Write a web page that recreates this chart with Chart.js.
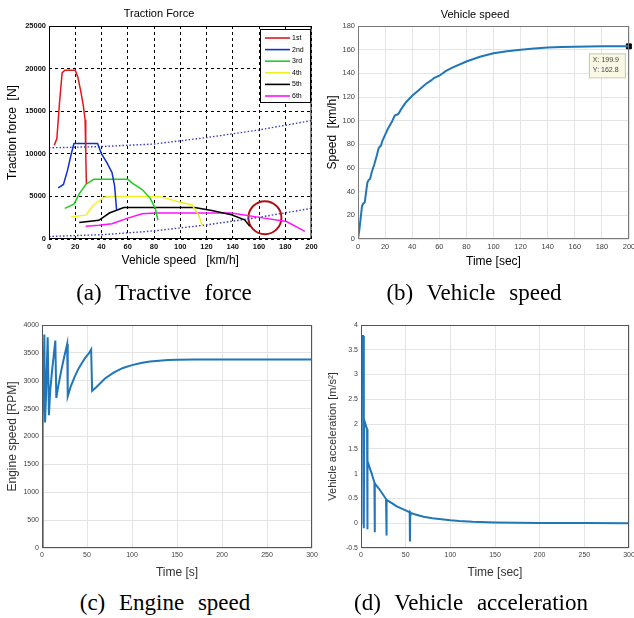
<!DOCTYPE html>
<html>
<head>
<meta charset="utf-8">
<script src="https://cdn.jsdelivr.net/npm/chart.js@4.4.0/dist/chart.umd.min.js"></script>
<style>
  body { margin: 0; background: #fff; width: 634px; height: 618px; position: relative; overflow: hidden; }
  canvas { position: absolute; }
  .cap { position: absolute; font-family: "Liberation Serif", serif; font-size: 23px; word-spacing: 8px; color: #000; white-space: pre; transform: translate(-50%, -50%); }
</style>
</head>
<body>
<canvas id="cA" width="330" height="280" style="left:0;top:0"></canvas>
<canvas id="cB" width="314" height="280" style="left:320px;top:0"></canvas>
<canvas id="cC" width="320" height="285" style="left:0;top:300px"></canvas>
<canvas id="cD" width="314" height="285" style="left:320px;top:300px"></canvas>
<div class="cap" style="left:164px;top:293px">(a) Tractive force</div>
<div class="cap" style="left:474px;top:293px">(b) Vehicle speed</div>
<div class="cap" style="left:165px;top:603px">(c) Engine speed</div>
<div class="cap" style="left:471px;top:603px">(d) Vehicle acceleration</div>
<script>
// (a) traction force per gear: [speed km/h, force N]
const gear1 = [[4,11000],[6,11800],[8,16000],[10,19500],[12,19800],[20,19800],[22,19000],[24,17500],[26,15800],[27.5,14000],[28,10000],[28.5,6500]];
const gear2 = [[7,6000],[11,6400],[14,8000],[17,10000],[19,11200],[37,11200],[40,10000],[44,9000],[48,7800],[50,6200],[51.5,3400]];
const gear3 = [[12,3600],[19,4100],[23,5300],[28,6400],[34,7000],[60,7000],[64,6500],[71,5800],[77,4800],[81,3600],[83,2200]];
const gear4 = [[17,2600],[28,2800],[34,4000],[42,4900],[48,5000],[84,5000],[98,4400],[109,4000],[114,2800],[117,1500]];
const gear5 = [[23,1950],[38,2200],[46,3050],[57,3700],[111,3700],[124,3350],[139,2850],[149,2250],[153,1500]];
const gear6 = [[28,1500],[38,1600],[48,1800],[60,2450],[71,2950],[81,3050],[139,3050],[164,2450],[181,2050],[190,1300],[195,900]];
const resistUpper = [[0,10700],[40,10850],[80,11150],[120,11900],[160,12800],[200,13900]];
const resistLower = [[0,300],[40,500],[80,950],[120,1650],[160,2550],[200,3600]];
const circleMark = [[164.5,2500]];
const gearLabels = ['1st','2nd','3rd','4th','5th','6th'];
const gearColors = ['#e01818','#1030d0','#22cc22','#f0f020','#000000','#ff10ff'];

// (b) vehicle speed
const speedTime = [0,1,2,3,4,5,6,7,8,9,10,12,14,15,16,17,18,20,22,25,27,28,29,30,32,35,40,45,50,54,56,60,65,70,80,90,100,110,120,130,140,150,160,170,180,190,199.9];
const speedKmh = [0,8,18,28,30,31,40,48,50,51,56,63,71,76,78,79,83,88,93,99,104,105,105,106,110,115,121,126,131,134,136,138,142,145,150,154,157,158.7,160,161,161.8,162.2,162.5,162.7,162.8,162.8,162.8];
const speedTip = [199.9, 162.8];

// (c) engine speed
const engineTime = [0,0.5,1,2.6,3.4,4.5,6.3,7.7,9,11,13,14.8,15.9,18,21,24,28,28.6,32,36,40,44,48,52,54.6,55.7,60,65,70,80,90,100,110,120,130,140,150,170,200,250,300];
const engineRpm = [0,1400,2200,3830,2250,2750,3780,2380,2800,3150,3450,3720,2690,2900,3150,3380,3660,2720,2900,3060,3200,3310,3410,3490,3560,2820,2880,2960,3040,3150,3230,3280,3320,3345,3360,3370,3375,3380,3380,3380,3380];

// (d) vehicle acceleration
const accTime = [0,0.3,0.5,2.5,3.0,3.3,3.6,5,6.8,7.1,7.4,8,10,12,15,15.3,15.6,16,20,25,28,28.3,28.6,29,35,40,45,50,54.5,54.8,55.1,55.5,60,70,80,90,100,110,125,150,175,200,250,300];
const accMs2 = [0,0,3.78,3.78,3.76,-0.1,2.08,2.0,1.9,-0.12,1.25,1.22,1.1,1.0,0.82,-0.18,0.8,0.79,0.7,0.57,0.49,-0.25,0.48,0.47,0.4,0.34,0.3,0.26,0.22,-0.37,0.22,0.21,0.18,0.13,0.1,0.08,0.06,0.045,0.03,0.015,0.008,0.005,0.002,0];

const SANS = '"Liberation Sans", Arial, sans-serif';
const pairs = arr => arr.map(p => ({x: p[0], y: p[1]}));
const zip = (xs, ys) => xs.map((x, i) => ({x: x, y: ys[i]}));

// box round the plot area, like matlab
const frame = {
  id: 'frame',
  afterDraw(chart, args, opts) {
    const {ctx, chartArea: a} = chart;
    ctx.save();
    ctx.strokeStyle = opts.color;
    ctx.lineWidth = 1;
    ctx.strokeRect(a.left + 0.5, a.top + 0.5, a.right - a.left - 1, a.bottom - a.top - 1);
    ctx.restore();
  }
};

// legend box in the upper right corner of (a)
const gearLegend = {
  id: 'gearLegend',
  afterDraw(chart) {
    const {ctx, chartArea: a} = chart;
    const items = chart.data.datasets.filter(d => d.inLegend);
    const w = 50, rowH = 11.6, h = 73;
    const x0 = a.right - w - 1.5, y0 = a.top + 3;
    ctx.save();
    ctx.fillStyle = '#fff';
    ctx.fillRect(x0, y0, w, h);
    ctx.strokeStyle = '#000';
    ctx.lineWidth = 1;
    ctx.strokeRect(x0 + 0.5, y0 + 0.5, w, h);
    ctx.font = '7px ' + SANS;
    ctx.textBaseline = 'middle';
    items.forEach((d, i) => {
      const y = y0 + 9 + i * rowH;
      ctx.strokeStyle = d.borderColor;
      ctx.lineWidth = 1.6;
      ctx.beginPath();
      ctx.moveTo(x0 + 5, y);
      ctx.lineTo(x0 + 30, y);
      ctx.stroke();
      ctx.fillStyle = '#000';
      ctx.fillText(d.label, x0 + 32, y);
    });
    ctx.restore();
  }
};

// data tip of (b)
const dataTip = {
  id: 'dataTip',
  afterDraw(chart) {
    const {ctx, scales} = chart;
    const px = scales.x.getPixelForValue(speedTip[0]);
    const py = scales.y.getPixelForValue(speedTip[1]);
    const x0 = px - 40, y0 = py + 7;
    ctx.save();
    ctx.fillStyle = '#f8f8e4';
    ctx.fillRect(x0, y0, 36, 24);
    ctx.strokeStyle = '#c8c8b0';
    ctx.strokeRect(x0 + 0.5, y0 + 0.5, 36, 24);
    ctx.fillStyle = '#444';
    ctx.font = '7px ' + SANS;
    ctx.textBaseline = 'middle';
    ctx.fillText('X: ' + speedTip[0], x0 + 4, y0 + 7);
    ctx.fillText('Y: ' + speedTip[1], x0 + 4, y0 + 17);
    ctx.restore();
  }
};

function axis(o) {
  return {
    type: 'linear',
    min: o.min, max: o.max,
    ticks: {
      stepSize: o.step, padding: 3, color: o.tickColor,
      font: {family: SANS, size: o.tickSize, weight: o.tickWeight || 'normal'},
      callback: v => String(v), maxRotation: 0, autoSkip: false
    },
    grid: {color: o.gridColor, drawTicks: false, lineWidth: 1},
    border: {display: false, dash: o.dash || []},
    title: {display: true, text: o.title, color: o.titleColor || '#000',
      font: {family: SANS, size: o.titleSize || 12}, padding: o.titlePad},
    afterFit(s) {
      if (o.horizontal) { s.height = o.size; s.paddingLeft = 0; s.paddingRight = 0; }
      else { s.width = o.size; s.paddingTop = 0; s.paddingBottom = 0; }
    }
  };
}

function lineSet(data, color, width, extra) {
  return Object.assign({data: data, borderColor: color, backgroundColor: color, borderWidth: width,
    pointRadius: 0, tension: 0, fill: false}, extra || {});
}

const base = {responsive: false, animation: false, events: [], parsing: false};
const noLegend = {legend: {display: false}, tooltip: {enabled: false}};

// (a)
const gears = [gear1, gear2, gear3, gear4, gear5, gear6];
const setsA = gears.map((g, i) => lineSet(pairs(g), gearColors[i], 1.5, {label: gearLabels[i], inLegend: true}));
setsA.push(lineSet(pairs(resistUpper), '#3838d0', 1.4, {label: 'upper', borderDash: [1.5, 2]}));
setsA.push(lineSet(pairs(resistLower), '#3838d0', 1.4, {label: 'lower', borderDash: [1.5, 2]}));
setsA.push({label: 'mark', data: pairs(circleMark), showLine: false, pointRadius: 16.5, pointStyle: 'circle',
  pointBorderColor: '#b01010', pointBorderWidth: 2, pointBackgroundColor: 'rgba(0,0,0,0)'});

new Chart(document.getElementById('cA'), {
  type: 'line',
  data: {datasets: setsA},
  options: Object.assign({}, base, {
    layout: {padding: {left: 0, right: 12, top: 0, bottom: 0}},
    scales: {
      x: axis({horizontal: true, min: 0, max: 200, step: 20, size: 41, tickSize: 7.5, tickWeight: 'bold', tickColor: '#111',
        gridColor: '#000', dash: [3, 3], title: 'Vehicle speed   [km/h]', titlePad: {top: 0, bottom: 11.8}}),
      y: axis({min: 0, max: 25000, step: 5000, size: 49, tickSize: 7.5, tickWeight: 'bold', tickColor: '#111',
        gridColor: '#000', dash: [3, 3], title: 'Traction force  [N]', titlePad: {top: 5.8, bottom: 0}})
    },
    plugins: Object.assign({}, noLegend, {
      title: {display: true, text: 'Traction Force', color: '#000', font: {family: SANS, size: 11, weight: 'normal'},
        padding: {top: 7.4, bottom: 5.4}},
      frame: {color: '#000'}
    })
  }),
  plugins: [frame, gearLegend]
});

// (b)
new Chart(document.getElementById('cB'), {
  type: 'line',
  data: {datasets: [
    lineSet(zip(speedTime, speedKmh), '#2176b8', 2),
    {data: [{x: speedTip[0], y: speedTip[1]}], showLine: false, pointStyle: 'rect', pointRadius: 3.5,
      pointBackgroundColor: '#000', pointBorderColor: '#000', clip: false}
  ]},
  options: Object.assign({}, base, {
    layout: {padding: {left: 0, right: 4, top: 0, bottom: 0}},
    scales: {
      x: axis({horizontal: true, min: 0, max: 200, step: 20, size: 41, tickSize: 7.5, tickColor: '#404040',
        gridColor: '#e4e4e4', title: 'Time [sec]', titlePad: {top: 0, bottom: 10.8}}),
      y: axis({min: 0, max: 180, step: 20, size: 38, tickSize: 7.5, tickColor: '#404040',
        gridColor: '#e4e4e4', title: 'Speed  [km/h]', titlePad: {top: 5.8, bottom: 0}})
    },
    plugins: Object.assign({}, noLegend, {
      title: {display: true, text: 'Vehicle speed', color: '#000', font: {family: SANS, size: 11, weight: 'normal'},
        padding: {top: 8.4, bottom: 4.4}},
      frame: {color: '#7a7a7a'}
    })
  }),
  plugins: [frame, dataTip]
});

// (c)
new Chart(document.getElementById('cC'), {
  type: 'line',
  data: {datasets: [lineSet(zip(engineTime, engineRpm), '#2176b8', 2)]},
  options: Object.assign({}, base, {
    layout: {padding: {left: 0, right: 8, top: 25, bottom: 0}},
    scales: {
      x: axis({horizontal: true, min: 0, max: 300, step: 50, size: 37, tickSize: 7, tickColor: '#404040',
        gridColor: '#e4e4e4', title: 'Time [s]', titleColor: '#333', titlePad: {top: 0, bottom: 4.8}}),
      y: axis({min: 0, max: 4000, step: 500, size: 42, tickSize: 7, tickColor: '#404040',
        gridColor: '#e4e4e4', title: 'Engine speed [RPM]', titleColor: '#333', titlePad: {top: 5.8, bottom: 0}})
    },
    plugins: Object.assign({}, noLegend, {frame: {color: '#555'}})
  }),
  plugins: [frame]
});

// (d)
new Chart(document.getElementById('cD'), {
  type: 'line',
  data: {datasets: [lineSet(zip(accTime, accMs2), '#2176b8', 2)]},
  options: Object.assign({}, base, {
    layout: {padding: {left: 0, right: 5, top: 25, bottom: 0}},
    scales: {
      x: axis({horizontal: true, min: 0, max: 300, step: 50, size: 37, tickSize: 7, tickColor: '#404040',
        gridColor: '#e4e4e4', title: 'Time [sec]', titleColor: '#333', titlePad: {top: 0, bottom: 4.8}}),
      y: axis({min: -0.5, max: 4, step: 0.5, size: 41, tickSize: 7, tickColor: '#404040',
        gridColor: '#e4e4e4', title: 'Vehicle acceleration [m/s\u00b2]', titleColor: '#333', titleSize: 11,
        titlePad: {top: 6.4, bottom: 0}})
    },
    plugins: Object.assign({}, noLegend, {frame: {color: '#555'}})
  }),
  plugins: [frame]
});
</script>
</body>
</html>
